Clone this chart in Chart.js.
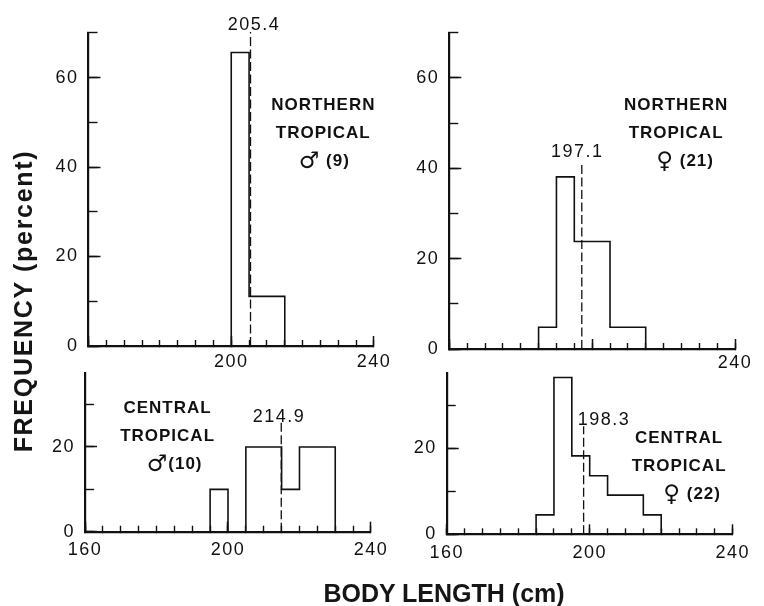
<!DOCTYPE html>
<html><head><meta charset="utf-8">
<script src="https://cdn.jsdelivr.net/npm/chart.js@4"></script>
<style>
html,body{margin:0;padding:0;background:#fff;}
#wrap{position:relative;width:764px;height:606px;overflow:hidden;background:#fff;}
canvas{position:absolute;}
.t{position:absolute;font-family:"Liberation Sans",Arial,Helvetica,sans-serif;font-weight:bold;color:#151515;white-space:nowrap;text-align:center;}
#ytitle{left:-177px;top:286px;width:400px;height:30px;line-height:30px;font-size:25px;letter-spacing:1.7px;transform:rotate(-90deg);transform-origin:center center;}
#xtitle{left:244px;top:578px;width:400px;height:30px;line-height:30px;font-size:25px;}
</style></head><body>
<div id="wrap">
<canvas id="cTL" width="400" height="385" style="left:0px;top:0px"></canvas>
<canvas id="cTR" width="364" height="385" style="left:400px;top:0px"></canvas>
<canvas id="cBL" width="400" height="266" style="left:0px;top:340px"></canvas>
<canvas id="cBR" width="364" height="266" style="left:400px;top:340px"></canvas>
<div class="t" id="ytitle">FREQUENCY (percent)</div>
<div class="t" id="xtitle">BODY LENGTH (cm)</div>
</div>
<script>
// ---- data ----
const binStarts = [185, 190, 195, 200, 205, 210, 215, 220, 225];
const binWidth = 5;
const northernMale   = [0, 0, 0, 65.6, 11.1, 11.1, 0, 0, 0];
const northernFemale = [4.8, 38.1, 23.8, 23.8, 4.8, 4.8, 0, 0, 0];
const centralMale    = [0, 0, 10, 0, 20, 20, 10, 20, 20];
const centralFemale  = [4.5, 36.4, 18.2, 13.6, 9.1, 9.1, 4.5, 0, 0];
const meanValues = [205.4, 197.1, 214.9, 198.3];
const meanLabels = ['205.4', '197.1', '214.9', '198.3'];
const panelTitles = [
  ['NORTHERN', 'TROPICAL', '\u2642 (9)'],
  ['NORTHERN', 'TROPICAL', '\u2640 (21)'],
  ['CENTRAL', 'TROPICAL', '\u2642(10)'],
  ['CENTRAL', 'TROPICAL', '\u2640 (22)']
];
const xTickLabels = [[200, 240], [240], [160, 200, 240], [160, 200, 240]];
const yTickLabels = [[0, 20, 40, 60], [0, 20, 40, 60], [0, 20], [0, 20]];
const xRange = [160, 240];
const yMaxTop = 70, yMaxBottom = 37.5;

// ---- layout / style ----
const FONT = "'Liberation Sans', Arial, Helvetica, sans-serif";
const SYMFONT = "'DejaVu Sans', 'Noto Sans', sans-serif";
const INK = '#111111';
const panels = [
  {id:'cTL', vals:northernMale,   pad:{left:40,top:30,right:26,bottom:0},   yW:48.5, xH:39,   yMax:yMaxTop,    xLabPad:11, meanTop:70.2, labX:206.4, labY:71.7, noteX:225.8, noteY:53.9, sexDx:1},
  {id:'cTR', vals:northernFemale, pad:{left:10,top:32,right:29,bottom:0},   yW:39.3, xH:36,   yMax:yMaxTop,    xLabPad:9,  meanTop:41.3, labX:195.8, labY:43.5, noteX:223.5, noteY:53.9, sexDx:9},
  {id:'cBL', vals:centralMale,    pad:{left:40,top:18.3,right:27.3,bottom:0}, yW:45,  xH:74.3, yMax:yMaxBottom, xLabPad:14, meanTop:25.7, labX:214.3, labY:27.0, noteX:183.1, noteY:29.1, sexDx:7},
  {id:'cBR', vals:centralFemale,  pad:{left:10,top:18.3,right:31.3,bottom:0}, yW:36.7,xH:71.7, yMax:yMaxBottom, xLabPad:14, meanTop:25.1, labX:204.0, labY:26.5, noteX:225.0, noteY:22.4, sexDx:13}
];

function histPoints(vals){
  let first = vals.findIndex(v => v > 0);
  let last = vals.length - 1;
  while (last > 0 && vals[last] === 0) last--;
  const pts = [{x: binStarts[first], y: 0}];
  for (let i = first; i <= last; i++) pts.push({x: binStarts[i], y: vals[i]});
  pts.push({x: binStarts[last] + binWidth, y: 0});
  return pts;
}

const spacingPlugin = {
  id: 'spacing',
  beforeDraw(chart){ chart.ctx.letterSpacing = '1.5px'; }
};

const annotPlugin = {
  id: 'annot',
  afterDraw(chart, args, o){
    const ctx = chart.ctx, xs = chart.scales.x, ys = chart.scales.y;
    ctx.save();
    ctx.fillStyle = INK;
    ctx.textBaseline = 'middle';
    // mean label
    ctx.textAlign = 'center';
    ctx.letterSpacing = '1.5px';
    ctx.font = '18px ' + FONT;
    ctx.fillText(o.meanLabel, xs.getPixelForValue(o.labX), ys.getPixelForValue(o.labY));
    // panel title
    ctx.letterSpacing = '1px';
    const x0 = xs.getPixelForValue(o.noteX), y0 = ys.getPixelForValue(o.noteY);
    o.lines.forEach((t, i) => {
      const y = y0 + i * 28;
      if (i < 2) {
        ctx.textAlign = 'center';
        ctx.font = 'bold 17px ' + FONT;
        ctx.fillText(t, x0, y);
      } else {
        const sym = t[0], rest = t.slice(1);
        ctx.textAlign = 'left';
        ctx.font = 'bold 23px ' + SYMFONT;
        const ws = ctx.measureText(sym).width;
        ctx.font = 'bold 17px ' + FONT;
        const wr = ctx.measureText(rest).width;
        let xl = x0 + o.sexDx - (ws + wr) / 2;
        ctx.font = 'bold 23px ' + SYMFONT;
        ctx.fillText(sym, xl, y + 1);
        ctx.font = 'bold 17px ' + FONT;
        ctx.fillText(rest, xl + ws, y);
      }
    });
    ctx.restore();
  }
};

panels.forEach((p, k) => {
  const xShown = xTickLabels[k], yShown = yTickLabels[k];
  new Chart(document.getElementById(p.id), {
    type: 'line',
    data: {
      datasets: [
        {data: histPoints(p.vals), stepped: 'before', borderColor: INK, borderWidth: 1.6,
         pointRadius: 0, fill: false, tension: 0, xAxisID: 'x', yAxisID: 'y'},
        {data: [{x: meanValues[k], y: 0}, {x: meanValues[k], y: p.meanTop}], borderColor: INK,
         borderWidth: 1.3, borderDash: [9, 3.5], pointRadius: 0, fill: false, clip: false,
         xAxisID: 'x', yAxisID: 'y'}
      ]
    },
    options: {
      responsive: false, animation: false, events: [],
      layout: {padding: p.pad},
      plugins: {
        legend: {display: false}, tooltip: {enabled: false},
        annot: {meanLabel: meanLabels[k], labX: p.labX, labY: p.labY, noteX: p.noteX, noteY: p.noteY,
                lines: panelTitles[k], sexDx: p.sexDx}
      },
      scales: {
        x: {type: 'linear', position: 'bottom', weight: 1, min: xRange[0], max: xRange[1],
            ticks: {stepSize: 5, autoSkip: false, maxRotation: 0, includeBounds: false, padding: p.xLabPad,
                    color: INK, font: {family: FONT, size: 18},
                    callback: v => xShown.includes(v) ? String(v) : ''},
            grid: {drawOnChartArea: false, drawTicks: true, tickLength: -6, tickColor: INK, tickWidth: 1.4},
            border: {display: true, color: INK, width: 2.2},
            afterFit: s => { s.height = p.xH; }},
        xMajor: {type: 'linear', position: 'bottom', weight: 0, min: xRange[0], max: xRange[1],
            ticks: {stepSize: 40, display: false},
            grid: {drawOnChartArea: false, drawTicks: true, tickLength: -10, tickColor: INK, tickWidth: 1.5},
            border: {display: false},
            afterFit: s => { s.height = 0; }},
        y: {type: 'linear', position: 'left', weight: 1, min: 0, max: p.yMax,
            ticks: {stepSize: 20, includeBounds: false, padding: 22, color: INK, font: {family: FONT, size: 18},
                    callback: v => yShown.includes(v) ? String(v) : ''},
            grid: {drawOnChartArea: false, drawTicks: true, tickLength: -12, tickColor: INK, tickWidth: 1.5},
            border: {display: false},
            afterFit: s => { s.width = p.yW; }},
        yMinor: {type: 'linear', position: 'left', weight: 0, min: 0, max: p.yMax,
            ticks: {stepSize: 10, includeBounds: false, display: false},
            grid: {drawOnChartArea: false, drawTicks: true, tickLength: -9, tickColor: INK, tickWidth: 1.4},
            border: {display: true, color: INK, width: 2.2},
            afterFit: s => { s.width = 0; }}
      }
    },
    plugins: [spacingPlugin, annotPlugin]
  });
});
</script>
</body></html>
